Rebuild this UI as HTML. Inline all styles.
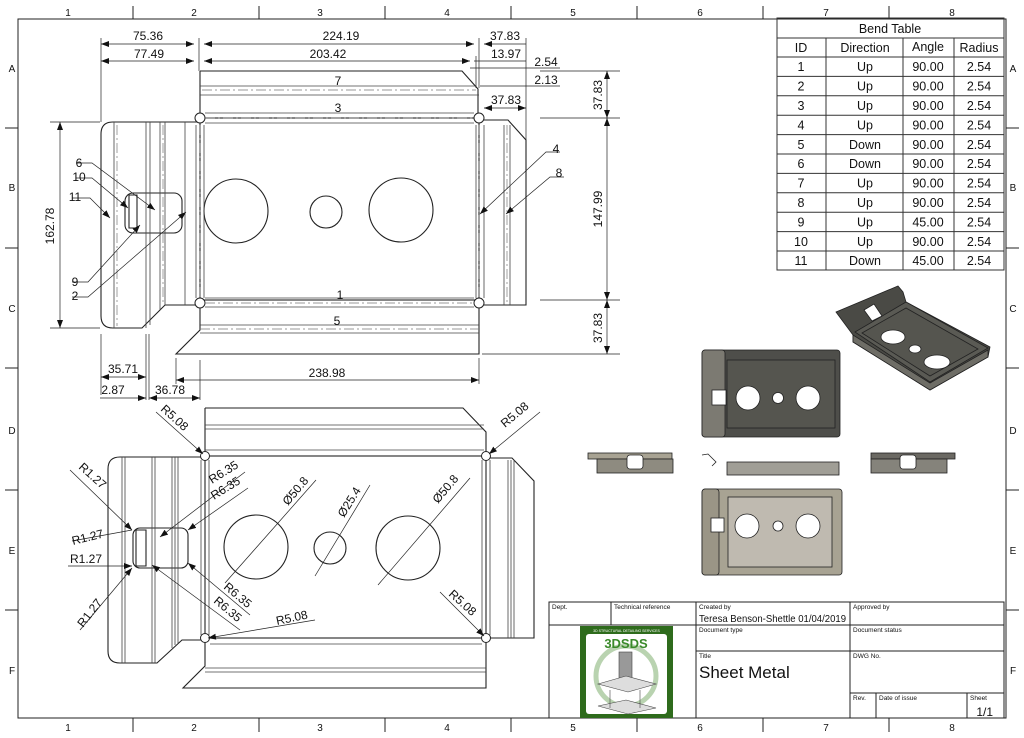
<!DOCTYPE html>
<html><head><meta charset="utf-8"><style>
html,body{margin:0;padding:0;background:#fff}
svg{display:block}
text{font-family:"Liberation Sans",sans-serif;fill:#111}
</style></head><body>
<svg width="1024" height="738" viewBox="0 0 1024 738" xmlns="http://www.w3.org/2000/svg">
<defs>
<marker id="a" markerWidth="8" markerHeight="6" refX="8" refY="3" orient="auto-start-reverse" markerUnits="userSpaceOnUse"><path d="M0,0 L8,3 L0,6z" fill="#111"/></marker>
</defs>
<rect width="1024" height="738" fill="#fff"/>
<rect x="18" y="19" width="988" height="699" fill="none" stroke="#222" stroke-width="1"/>
<g stroke="#222" stroke-width="1">
<line x1="133" y1="6" x2="133" y2="19"/><line x1="259" y1="6" x2="259" y2="19"/><line x1="385" y1="6" x2="385" y2="19"/><line x1="511" y1="6" x2="511" y2="19"/><line x1="637" y1="6" x2="637" y2="19"/><line x1="763" y1="6" x2="763" y2="19"/><line x1="889" y1="6" x2="889" y2="19"/>
<line x1="133" y1="718" x2="133" y2="732"/><line x1="259" y1="718" x2="259" y2="732"/><line x1="385" y1="718" x2="385" y2="732"/><line x1="511" y1="718" x2="511" y2="732"/><line x1="637" y1="718" x2="637" y2="732"/><line x1="763" y1="718" x2="763" y2="732"/><line x1="889" y1="718" x2="889" y2="732"/>
<line x1="5" y1="128" x2="18" y2="128"/><line x1="5" y1="248" x2="18" y2="248"/><line x1="5" y1="368" x2="18" y2="368"/><line x1="5" y1="490" x2="18" y2="490"/><line x1="5" y1="610" x2="18" y2="610"/>
<line x1="1006" y1="128" x2="1019" y2="128"/><line x1="1006" y1="248" x2="1019" y2="248"/><line x1="1006" y1="368" x2="1019" y2="368"/><line x1="1006" y1="490" x2="1019" y2="490"/><line x1="1006" y1="610" x2="1019" y2="610"/>
</g>
<g font-size="10" text-anchor="middle">
<text x="68" y="16">1</text><text x="194" y="16">2</text><text x="320" y="16">3</text><text x="447" y="16">4</text><text x="573" y="16">5</text><text x="700" y="16">6</text><text x="826" y="16">7</text><text x="952" y="16">8</text>
<text x="68" y="731">1</text><text x="194" y="731">2</text><text x="320" y="731">3</text><text x="447" y="731">4</text><text x="573" y="731">5</text><text x="700" y="731">6</text><text x="826" y="731">7</text><text x="952" y="731">8</text>
<text x="12" y="72">A</text><text x="12" y="191">B</text><text x="12" y="312">C</text><text x="12" y="434">D</text><text x="12" y="554">E</text><text x="12" y="674">F</text>
<text x="1013" y="72">A</text><text x="1013" y="191">B</text><text x="1013" y="312">C</text><text x="1013" y="434">D</text><text x="1013" y="554">E</text><text x="1013" y="674">F</text>
</g>

<!-- TOP FLAT PATTERN -->
<g fill="none" stroke="#222" stroke-width="1.1">
<path d="M200,71 H462 L478,89 V118"/>
<line x1="200" y1="71" x2="200" y2="118"/>
<rect x="200" y="118" width="279" height="182"/>
<path d="M113,122 H200 M113,122 Q101,122 101,134 V316 Q101,328 113,328 H142 L165,305 H200"/>
<path d="M479,120 H508 L526,140 V305 H479"/>
<path d="M200,303 V330 L176,354 H479 V300"/>
<rect x="125" y="193" width="57" height="40" rx="8"/>
<path d="M129,195 H137 V228 H129 Z"/>
<circle cx="236" cy="211" r="32"/><circle cx="326" cy="212" r="16"/><circle cx="401" cy="210" r="32"/>
</g>
<g fill="#fff" stroke="#222" stroke-width="1"><circle cx="200" cy="118" r="5"/><circle cx="479" cy="118" r="5"/><circle cx="200" cy="303" r="5"/><circle cx="479" cy="303" r="5"/></g>
<g stroke="#444" stroke-width="0.8" fill="none">
<line x1="200" y1="86" x2="476" y2="86"/><line x1="200" y1="95" x2="479" y2="95"/>
<line x1="205" y1="113" x2="474" y2="113"/><line x1="205" y1="123" x2="474" y2="123"/>
<line x1="205" y1="298" x2="474" y2="298"/><line x1="205" y1="307" x2="474" y2="307"/>
<line x1="200" y1="325" x2="479" y2="325"/><line x1="200" y1="333" x2="479" y2="333"/>
<line x1="114" y1="122" x2="114" y2="328"/><line x1="146" y1="122" x2="146" y2="328"/><line x1="150" y1="122" x2="150" y2="325"/>
<line x1="160" y1="122" x2="160" y2="310"/><line x1="165" y1="122" x2="165" y2="305"/><line x1="185" y1="122" x2="185" y2="305"/>
<line x1="196" y1="125" x2="196" y2="298"/><line x1="204" y1="125" x2="204" y2="298"/>
<line x1="476" y1="125" x2="476" y2="298"/><line x1="484" y1="125" x2="484" y2="298"/>
<line x1="504" y1="125" x2="504" y2="305"/><line x1="510" y1="125" x2="510" y2="305"/>
</g>
<g stroke="#777" stroke-width="0.7" stroke-dasharray="10,3,2,3">
<line x1="202" y1="90" x2="476" y2="90"/><line x1="205" y1="118" x2="474" y2="118"/><line x1="205" y1="303" x2="474" y2="303"/><line x1="200" y1="329" x2="479" y2="329"/>
<line x1="117" y1="125" x2="117" y2="326"/><line x1="163" y1="125" x2="163" y2="303"/><line x1="200" y1="125" x2="200" y2="298"/><line x1="479" y1="125" x2="479" y2="298"/><line x1="507" y1="125" x2="507" y2="303"/>
</g>
<g font-size="12" text-anchor="middle">
<text x="338" y="85">7</text><text x="338" y="112">3</text><text x="340" y="299">1</text><text x="337" y="325">5</text>
</g>
<g stroke="#222" stroke-width="0.7" fill="none">
<line x1="101" y1="38" x2="101" y2="122"/><line x1="199" y1="38" x2="199" y2="71"/><line x1="479" y1="38" x2="479" y2="88"/><line x1="526" y1="38" x2="526" y2="140"/>
<line x1="101" y1="44" x2="194" y2="44" marker-start="url(#a)" marker-end="url(#a)"/>
<line x1="204" y1="44" x2="474" y2="44" marker-start="url(#a)" marker-end="url(#a)"/>
<line x1="484" y1="44" x2="526" y2="44" marker-start="url(#a)"/>
<line x1="101" y1="61" x2="194" y2="61" marker-start="url(#a)" marker-end="url(#a)"/>
<line x1="204" y1="61" x2="470" y2="61" marker-start="url(#a)" marker-end="url(#a)"/>
<line x1="474" y1="61" x2="526" y2="61"/>
<line x1="470" y1="68" x2="560" y2="68"/><line x1="476" y1="56" x2="476" y2="88"/>
<line x1="480" y1="86" x2="560" y2="86"/>
<line x1="484" y1="108" x2="526" y2="108" marker-start="url(#a)" marker-end="url(#a)"/>
<line x1="540" y1="71" x2="620" y2="71"/><line x1="540" y1="118" x2="620" y2="118"/><line x1="540" y1="300" x2="620" y2="300"/><line x1="482" y1="354" x2="620" y2="354"/>
<line x1="607" y1="71" x2="607" y2="118" marker-start="url(#a)" marker-end="url(#a)"/>
<line x1="607" y1="118" x2="607" y2="300" marker-start="url(#a)" marker-end="url(#a)"/>
<line x1="607" y1="300" x2="607" y2="354" marker-start="url(#a)" marker-end="url(#a)"/>
<line x1="50" y1="122" x2="100" y2="122"/><line x1="50" y1="328" x2="100" y2="328"/>
<line x1="60" y1="122" x2="60" y2="328" marker-start="url(#a)" marker-end="url(#a)"/>
<line x1="176" y1="358" x2="176" y2="384"/><line x1="479" y1="358" x2="479" y2="384"/>
<line x1="176" y1="380" x2="479" y2="380" marker-start="url(#a)" marker-end="url(#a)"/>
<line x1="101" y1="334" x2="101" y2="395"/><line x1="146" y1="334" x2="146" y2="400"/><line x1="149" y1="334" x2="149" y2="400"/><line x1="200" y1="360" x2="200" y2="400"/>
<line x1="101" y1="377" x2="146" y2="377" marker-start="url(#a)" marker-end="url(#a)"/>
<line x1="100" y1="398" x2="146" y2="398" marker-end="url(#a)"/><line x1="149" y1="398" x2="200" y2="398" marker-start="url(#a)" marker-end="url(#a)"/>
<polyline points="76,163 92,163 155,210" marker-end="url(#a)"/>
<polyline points="76,178 92,178 128,208" marker-end="url(#a)"/>
<polyline points="72,198 90,198 110,218" marker-end="url(#a)"/>
<polyline points="72,282 88,282 140,225" marker-end="url(#a)"/>
<polyline points="72,297 88,297 186,212" marker-end="url(#a)"/>
<polyline points="560,152 546,152 480,214" marker-end="url(#a)"/>
<polyline points="564,177 550,177 506,214" marker-end="url(#a)"/>
</g>
<g font-size="12" text-anchor="middle">
<text x="148" y="40">75.36</text><text x="341" y="40">224.19</text><text x="505" y="40">37.83</text>
<text x="149" y="58">77.49</text><text x="328" y="58">203.42</text><text x="506" y="58">13.97</text>
<text x="546" y="66">2.54</text><text x="546" y="84">2.13</text><text x="506" y="104">37.83</text>
<text x="327" y="377">238.98</text><text x="123" y="373">35.71</text><text x="113" y="394">2.87</text><text x="170" y="394">36.78</text>
<text x="79" y="167">6</text><text x="79" y="181">10</text><text x="75" y="201">11</text><text x="75" y="286">9</text><text x="75" y="300">2</text>
<text x="556" y="153">4</text><text x="559" y="177">8</text>
<text transform="translate(54,226) rotate(-90)">162.78</text>
<text transform="translate(602,209) rotate(-90)">147.99</text>
<text transform="translate(602,95) rotate(-90)">37.83</text>
<text transform="translate(602,328) rotate(-90)">37.83</text>
</g>

<!-- BOTTOM FLAT PATTERN -->
<g fill="none" stroke="#222" stroke-width="1.1">
<path d="M205,408 H463 L486,432 V455"/><line x1="205" y1="408" x2="205" y2="455"/>
<rect x="205" y="456" width="281" height="182"/>
<path d="M120,457 H205 M120,457 Q108,457 108,469 V651 Q108,663 120,663 H157 L182,640 H205"/>
<path d="M486,458 H512 L534,481 V638 H486"/>
<path d="M205,640 V666 L183,688 H486 V638"/>
<rect x="133" y="528" width="55" height="40" rx="7"/>
<path d="M136,530 H146 V566 H136 Z"/>
<circle cx="256" cy="547" r="32"/><circle cx="330" cy="548" r="16"/><circle cx="408" cy="548" r="32"/>
</g>
<g fill="#fff" stroke="#222" stroke-width="1"><circle cx="205" cy="456" r="4.5"/><circle cx="486" cy="456" r="4.5"/><circle cx="205" cy="638" r="4.5"/><circle cx="486" cy="638" r="4.5"/></g>
<g stroke="#444" stroke-width="0.8">
<line x1="205" y1="425" x2="484" y2="425"/><line x1="205" y1="429" x2="484" y2="429"/><line x1="205" y1="450" x2="484" y2="450"/>
<line x1="210" y1="644" x2="482" y2="644"/><line x1="205" y1="668" x2="486" y2="668"/><line x1="205" y1="672" x2="486" y2="672"/>
<line x1="122" y1="457" x2="122" y2="663"/><line x1="125" y1="457" x2="125" y2="663"/><line x1="152" y1="457" x2="152" y2="663"/><line x1="155" y1="457" x2="155" y2="663"/>
<line x1="172" y1="457" x2="172" y2="648"/><line x1="175" y1="457" x2="175" y2="645"/><line x1="178" y1="457" x2="178" y2="643"/>
<line x1="201" y1="460" x2="201" y2="635"/><line x1="209" y1="460" x2="209" y2="635"/>
<line x1="482" y1="460" x2="482" y2="635"/><line x1="490" y1="460" x2="490" y2="635"/>
<line x1="508" y1="460" x2="508" y2="638"/><line x1="511" y1="460" x2="511" y2="638"/><line x1="514" y1="460" x2="514" y2="638"/>
</g>
<g stroke="#222" stroke-width="0.7" fill="none">
<line x1="156" y1="412" x2="203" y2="454" marker-end="url(#a)"/>
<line x1="540" y1="412" x2="489" y2="454" marker-end="url(#a)"/>
<line x1="70" y1="470" x2="132" y2="530" marker-end="url(#a)"/>
<line x1="72" y1="541" x2="132" y2="530"/>
<line x1="68" y1="566" x2="132" y2="566" marker-end="url(#a)"/>
<line x1="80" y1="630" x2="132" y2="568" marker-end="url(#a)"/>
<line x1="245" y1="472" x2="160" y2="537" marker-end="url(#a)"/>
<line x1="248" y1="488" x2="188" y2="530" marker-end="url(#a)"/>
<line x1="250" y1="615" x2="188" y2="563" marker-end="url(#a)"/>
<line x1="240" y1="630" x2="152" y2="565" marker-end="url(#a)"/>
<line x1="315" y1="620" x2="208" y2="638" marker-end="url(#a)"/>
<line x1="440" y1="592" x2="484" y2="636" marker-end="url(#a)"/>
<line x1="316" y1="480" x2="225" y2="583"/><line x1="370" y1="485" x2="315" y2="576"/><line x1="470" y1="478" x2="378" y2="585"/>
</g>
<g font-size="12">
<text transform="translate(160,410) rotate(42)">R5.08</text>
<text transform="translate(505,428) rotate(-40)">R5.08</text>
<text transform="translate(78,468) rotate(42)">R1.27</text>
<text transform="translate(73,545) rotate(-14)">R1.27</text>
<text x="70" y="563">R1.27</text>
<text transform="translate(83,628) rotate(-52)">R1.27</text>
<text transform="translate(212,484) rotate(-32)">R6.35</text>
<text transform="translate(214,500) rotate(-32)">R6.35</text>
<text transform="translate(223,588) rotate(40)">R6.35</text>
<text transform="translate(213,602) rotate(40)">R6.35</text>
<text transform="translate(277,625) rotate(-12)">R5.08</text>
<text transform="translate(448,595) rotate(42)">R5.08</text>
<text transform="translate(288,506) rotate(-50)">Ø50.8</text>
<text transform="translate(344,518) rotate(-58)">Ø25.4</text>
<text transform="translate(438,504) rotate(-50)">Ø50.8</text>
</g>

<!-- BEND TABLE -->
<g stroke="#333" stroke-width="1" fill="none">
<rect x="777" y="18" width="227" height="252"/>
<line x1="777" y1="38" x2="1004" y2="38"/>
<line x1="826" y1="38" x2="826" y2="270"/><line x1="903" y1="38" x2="903" y2="270"/><line x1="954" y1="38" x2="954" y2="270"/>
<line x1="777" y1="57" x2="1004" y2="57"/><line x1="777" y1="76.4" x2="1004" y2="76.4"/><line x1="777" y1="95.8" x2="1004" y2="95.8"/><line x1="777" y1="115.2" x2="1004" y2="115.2"/><line x1="777" y1="134.6" x2="1004" y2="134.6"/><line x1="777" y1="154" x2="1004" y2="154"/><line x1="777" y1="173.4" x2="1004" y2="173.4"/><line x1="777" y1="192.8" x2="1004" y2="192.8"/><line x1="777" y1="212.2" x2="1004" y2="212.2"/><line x1="777" y1="231.6" x2="1004" y2="231.6"/><line x1="777" y1="251" x2="1004" y2="251"/>
</g>
<g font-size="12.5" text-anchor="middle">
<text x="890" y="33">Bend Table</text>
<text x="801" y="52">ID</text><text x="865" y="52">Direction</text><text x="928" y="51">Angle</text><text x="979" y="52">Radius</text>
<text x="801" y="71">1</text><text x="865" y="71">Up</text><text x="928" y="71">90.00</text><text x="979" y="71">2.54</text>
<text x="801" y="90.5">2</text><text x="865" y="90.5">Up</text><text x="928" y="90.5">90.00</text><text x="979" y="90.5">2.54</text>
<text x="801" y="110">3</text><text x="865" y="110">Up</text><text x="928" y="110">90.00</text><text x="979" y="110">2.54</text>
<text x="801" y="129.5">4</text><text x="865" y="129.5">Up</text><text x="928" y="129.5">90.00</text><text x="979" y="129.5">2.54</text>
<text x="801" y="149">5</text><text x="865" y="149">Down</text><text x="928" y="149">90.00</text><text x="979" y="149">2.54</text>
<text x="801" y="168">6</text><text x="865" y="168">Down</text><text x="928" y="168">90.00</text><text x="979" y="168">2.54</text>
<text x="801" y="187.5">7</text><text x="865" y="187.5">Up</text><text x="928" y="187.5">90.00</text><text x="979" y="187.5">2.54</text>
<text x="801" y="207">8</text><text x="865" y="207">Up</text><text x="928" y="207">90.00</text><text x="979" y="207">2.54</text>
<text x="801" y="226.5">9</text><text x="865" y="226.5">Up</text><text x="928" y="226.5">45.00</text><text x="979" y="226.5">2.54</text>
<text x="801" y="246">10</text><text x="865" y="246">Up</text><text x="928" y="246">90.00</text><text x="979" y="246">2.54</text>
<text x="801" y="265">11</text><text x="865" y="265">Down</text><text x="928" y="265">45.00</text><text x="979" y="265">2.54</text>
</g>

<!-- 3D VIEWS -->
<g stroke="#222" stroke-width="0.8">
<path d="M836,312 L898,286 L903,292 L906,302 L990,347 L988,357 L930,390 L853,342 L853,335 Z" fill="#4a4a45"/>
<path d="M855,332 L906,302 L988,348 L930,382 Z" fill="#5a5a54"/>
<path d="M862,333 L906,308 L978,349 L930,376 Z" fill="#55554f"/>
<path d="M853,335 L930,383 L988,350 L988,357 L930,390 L853,342 Z" fill="#6e6d66"/>
<ellipse cx="893" cy="337" rx="12" ry="7" fill="#fff"/><ellipse cx="915" cy="349" rx="6" ry="4" fill="#fff"/><ellipse cx="937" cy="362" rx="13" ry="7" fill="#fff"/>
<path d="M864,310 L874,304 L882,316 L872,321 Z" fill="#fff"/>
</g>
<g stroke="#222" stroke-width="0.8">
<rect x="702" y="350" width="138" height="87" rx="3" fill="#4e4e4a"/>
<rect x="702" y="350" width="23" height="87" rx="3" fill="#7c7a72"/>
<rect x="727" y="360" width="108" height="68" fill="#55554f"/>
<circle cx="748" cy="398" r="12" fill="#fff"/><circle cx="778" cy="398" r="5.5" fill="#fff"/><circle cx="808" cy="398" r="12" fill="#fff"/>
<rect x="712" y="390" width="14" height="15" fill="#fff"/>
</g>
<g stroke="#222" stroke-width="0.8">
<rect x="588" y="453" width="84" height="6" fill="#a8a393"/><rect x="597" y="459" width="76" height="14" fill="#8e8b80"/>
<rect x="627" y="455" width="16" height="14" rx="3" fill="#fff"/>
<rect x="871" y="453" width="84" height="6" fill="#6b6963"/><rect x="871" y="459" width="76" height="14" fill="#85837b"/>
<rect x="900" y="455" width="16" height="14" rx="3" fill="#fff"/>
<rect x="727" y="462" width="112" height="13" fill="#a09e96"/>
<polyline points="702,455 708,454 716,462 712,466" fill="none"/>
</g>
<g stroke="#222" stroke-width="0.8">
<rect x="702" y="489" width="140" height="86" rx="3" fill="#a8a393"/>
<rect x="702" y="489" width="17" height="86" rx="3" fill="#9a9586"/>
<rect x="728" y="497" width="104" height="70" fill="#bfbab0"/>
<circle cx="747" cy="526" r="12" fill="#fff"/><circle cx="778" cy="526" r="5" fill="#fff"/><circle cx="808" cy="526" r="12" fill="#fff"/>
<rect x="711" y="518" width="13" height="14" fill="#fff"/>
</g>

<!-- TITLE BLOCK -->
<g stroke="#222" stroke-width="1" fill="none">
<rect x="549" y="602" width="455" height="116"/>
<line x1="549" y1="625" x2="1004" y2="625"/>
<line x1="696" y1="651" x2="1004" y2="651"/>
<line x1="850" y1="693" x2="1004" y2="693"/>
<line x1="611" y1="602" x2="611" y2="625"/><line x1="696" y1="602" x2="696" y2="718"/><line x1="850" y1="602" x2="850" y2="718"/>
<line x1="876" y1="693" x2="876" y2="718"/><line x1="967" y1="693" x2="967" y2="718"/>
</g>
<g font-size="6.5" fill="#333">
<text x="552" y="609">Dept.</text><text x="614" y="609">Technical reference</text><text x="699" y="609">Created by</text><text x="853" y="609">Approved by</text>
<text x="699" y="632">Document type</text><text x="853" y="632">Document status</text>
<text x="699" y="658">Title</text><text x="853" y="658">DWG No.</text>
<text x="853" y="700">Rev.</text><text x="879" y="700">Date of issue</text><text x="970" y="700">Sheet</text>
</g>
<text x="699" y="622" font-size="10.5" textLength="147" lengthAdjust="spacingAndGlyphs">Teresa Benson-Shettle  01/04/2019</text>
<text x="699" y="678" font-size="17">Sheet Metal</text>
<text x="993" y="716" font-size="12" text-anchor="end">1/1</text>
<rect x="580" y="626" width="93" height="92" fill="#2e6b1c"/>
<rect x="586" y="634" width="81" height="80" rx="3" fill="#fff"/>
<text x="626.5" y="632" font-size="3.5" style="fill:#fff" text-anchor="middle">3D STRUCTURAL DETAILING SERVICES</text>
<circle cx="626" cy="676" r="30" fill="none" stroke="#b9d3b0" stroke-width="5"/>
<text x="626" y="648" font-size="13" font-weight="bold" text-anchor="middle" style="fill:#3a8a2a">3DSDS</text>
<rect x="619" y="652" width="13" height="26" fill="#999" stroke="#444" stroke-width="0.6"/>
<path d="M598,684 L626,676 L656,684 L628,692 Z" fill="#ddd" stroke="#444" stroke-width="0.6"/>
<path d="M610,690 V708 M640,690 V708 M598,706 L626,700 L656,708 L628,714 Z" fill="#ddd" stroke="#444" stroke-width="0.6"/>
</svg>
</body></html>
